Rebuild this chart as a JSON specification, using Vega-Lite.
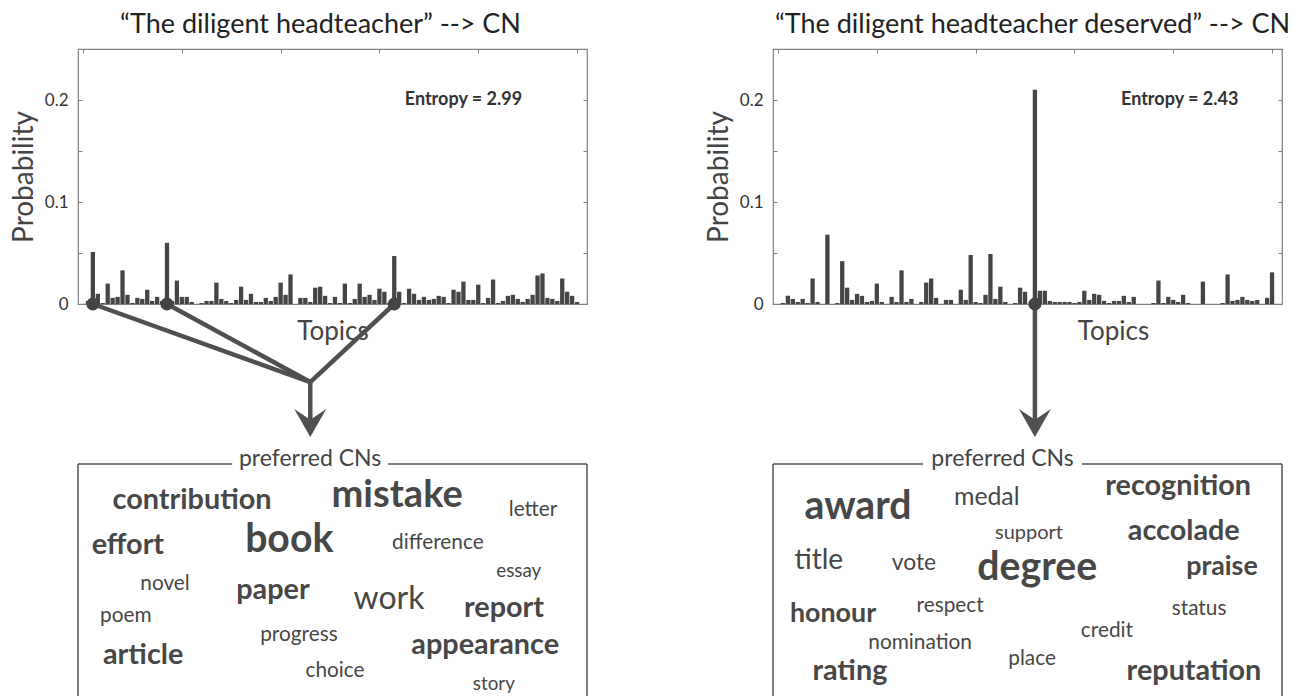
{
  "$schema": "https://vega.github.io/schema/vega-lite/v6.json",
  "padding": {"left": 9, "top": 9, "right": 0, "bottom": 0},
  "background": "white",
  "config": {"font": "Lato", "view": {"stroke": "#808080", "strokeWidth": 1.2}},
  "datasets": {
    "barsL": [
      {"topic":1,"prob":0.003},{"topic":2,"prob":0.051},{"topic":3,"prob":0.010},{"topic":4,"prob":0.001},{"topic":5,"prob":0.020},
      {"topic":6,"prob":0.006},{"topic":7,"prob":0.007},{"topic":8,"prob":0.033},{"topic":9,"prob":0.009},{"topic":10,"prob":0.001},
      {"topic":11,"prob":0.006},{"topic":12,"prob":0.005},{"topic":13,"prob":0.014},{"topic":14,"prob":0.003},{"topic":15,"prob":0.007},
      {"topic":16,"prob":0.003},{"topic":17,"prob":0.060},{"topic":18,"prob":0.003},{"topic":19,"prob":0.023},{"topic":20,"prob":0.007},
      {"topic":21,"prob":0.007},{"topic":22,"prob":0.002},{"topic":23,"prob":0.000},{"topic":24,"prob":0.001},{"topic":25,"prob":0.003},
      {"topic":26,"prob":0.003},{"topic":27,"prob":0.021},{"topic":28,"prob":0.005},{"topic":29,"prob":0.003},{"topic":30,"prob":0.001},
      {"topic":31,"prob":0.004},{"topic":32,"prob":0.017},{"topic":33,"prob":0.004},{"topic":34,"prob":0.010},{"topic":35,"prob":0.002},
      {"topic":36,"prob":0.002},{"topic":37,"prob":0.006},{"topic":38,"prob":0.003},{"topic":39,"prob":0.007},{"topic":40,"prob":0.021},
      {"topic":41,"prob":0.009},{"topic":42,"prob":0.029},{"topic":43,"prob":0.000},{"topic":44,"prob":0.006},{"topic":45,"prob":0.006},
      {"topic":46,"prob":0.002},{"topic":47,"prob":0.016},{"topic":48,"prob":0.017},{"topic":49,"prob":0.008},{"topic":50,"prob":0.001},
      {"topic":51,"prob":0.007},{"topic":52,"prob":0.001},{"topic":53,"prob":0.020},{"topic":54,"prob":0.001},{"topic":55,"prob":0.005},
      {"topic":56,"prob":0.020},{"topic":57,"prob":0.007},{"topic":58,"prob":0.009},{"topic":59,"prob":0.004},{"topic":60,"prob":0.015},
      {"topic":61,"prob":0.012},{"topic":62,"prob":0.001},{"topic":63,"prob":0.047},{"topic":64,"prob":0.012},{"topic":65,"prob":0.001},
      {"topic":66,"prob":0.015},{"topic":67,"prob":0.010},{"topic":68,"prob":0.004},{"topic":69,"prob":0.007},{"topic":70,"prob":0.004},
      {"topic":71,"prob":0.005},{"topic":72,"prob":0.008},{"topic":73,"prob":0.007},{"topic":74,"prob":0.001},{"topic":75,"prob":0.014},
      {"topic":76,"prob":0.012},{"topic":77,"prob":0.022},{"topic":78,"prob":0.004},{"topic":79,"prob":0.004},{"topic":80,"prob":0.019},
      {"topic":81,"prob":0.001},{"topic":82,"prob":0.006},{"topic":83,"prob":0.024},{"topic":84,"prob":0.001},{"topic":85,"prob":0.003},
      {"topic":86,"prob":0.008},{"topic":87,"prob":0.009},{"topic":88,"prob":0.005},{"topic":89,"prob":0.002},{"topic":90,"prob":0.005},
      {"topic":91,"prob":0.009},{"topic":92,"prob":0.028},{"topic":93,"prob":0.030},{"topic":94,"prob":0.006},{"topic":95,"prob":0.005},
      {"topic":96,"prob":0.003},{"topic":97,"prob":0.025},{"topic":98,"prob":0.012},{"topic":99,"prob":0.008},{"topic":100,"prob":0.002}
    ],
    "barsR": [
      {"topic":1,"prob":0.001},{"topic":2,"prob":0.008},{"topic":3,"prob":0.005},{"topic":4,"prob":0.002},{"topic":5,"prob":0.005},
      {"topic":6,"prob":0.001},{"topic":7,"prob":0.025},{"topic":8,"prob":0.002},{"topic":9,"prob":0.000},{"topic":10,"prob":0.068},
      {"topic":11,"prob":0.000},{"topic":12,"prob":0.001},{"topic":13,"prob":0.042},{"topic":14,"prob":0.016},{"topic":15,"prob":0.004},
      {"topic":16,"prob":0.010},{"topic":17,"prob":0.008},{"topic":18,"prob":0.002},{"topic":19,"prob":0.003},{"topic":20,"prob":0.020},
      {"topic":21,"prob":0.002},{"topic":22,"prob":0.000},{"topic":23,"prob":0.007},{"topic":24,"prob":0.002},{"topic":25,"prob":0.033},
      {"topic":26,"prob":0.002},{"topic":27,"prob":0.005},{"topic":28,"prob":0.000},{"topic":29,"prob":0.002},{"topic":30,"prob":0.021},
      {"topic":31,"prob":0.025},{"topic":32,"prob":0.006},{"topic":33,"prob":0.000},{"topic":34,"prob":0.004},{"topic":35,"prob":0.004},
      {"topic":36,"prob":0.000},{"topic":37,"prob":0.014},{"topic":38,"prob":0.004},{"topic":39,"prob":0.048},{"topic":40,"prob":0.002},
      {"topic":41,"prob":0.001},{"topic":42,"prob":0.009},{"topic":43,"prob":0.049},{"topic":44,"prob":0.005},{"topic":45,"prob":0.017},
      {"topic":46,"prob":0.002},{"topic":47,"prob":0.000},{"topic":48,"prob":0.001},{"topic":49,"prob":0.016},{"topic":50,"prob":0.012},
      {"topic":51,"prob":0.000},{"topic":52,"prob":0.210},{"topic":53,"prob":0.013},{"topic":54,"prob":0.013},{"topic":55,"prob":0.003},
      {"topic":56,"prob":0.002},{"topic":57,"prob":0.002},{"topic":58,"prob":0.002},{"topic":59,"prob":0.002},{"topic":60,"prob":0.001},
      {"topic":61,"prob":0.002},{"topic":62,"prob":0.013},{"topic":63,"prob":0.004},{"topic":64,"prob":0.010},{"topic":65,"prob":0.009},
      {"topic":66,"prob":0.003},{"topic":67,"prob":0.001},{"topic":68,"prob":0.003},{"topic":69,"prob":0.003},{"topic":70,"prob":0.008},
      {"topic":71,"prob":0.002},{"topic":72,"prob":0.007},{"topic":73,"prob":0.000},{"topic":74,"prob":0.000},{"topic":75,"prob":0.000},
      {"topic":76,"prob":0.001},{"topic":77,"prob":0.023},{"topic":78,"prob":0.001},{"topic":79,"prob":0.007},{"topic":80,"prob":0.004},
      {"topic":81,"prob":0.002},{"topic":82,"prob":0.009},{"topic":83,"prob":0.001},{"topic":84,"prob":0.000},{"topic":85,"prob":0.000},
      {"topic":86,"prob":0.022},{"topic":87,"prob":0.000},{"topic":88,"prob":0.000},{"topic":89,"prob":0.000},{"topic":90,"prob":0.001},
      {"topic":91,"prob":0.029},{"topic":92,"prob":0.003},{"topic":93,"prob":0.004},{"topic":94,"prob":0.007},{"topic":95,"prob":0.004},
      {"topic":96,"prob":0.003},{"topic":97,"prob":0.004},{"topic":98,"prob":0.000},{"topic":99,"prob":0.006},{"topic":100,"prob":0.031}
    ],
    "selL": [{"topic":2,"prob":0},{"topic":17,"prob":0},{"topic":63,"prob":0}],
    "selR": [{"topic":52,"prob":0}],
    "arrowL": [
      {"topic":2,"prob":0,"topic2":46,"prob2":-0.0765},
      {"topic":17,"prob":0,"topic2":46,"prob2":-0.0765},
      {"topic":63,"prob":0,"topic2":46,"prob2":-0.0765},
      {"topic":46,"prob":-0.0765,"topic2":46,"prob2":-0.113}
    ],
    "arrowR": [
      {"topic":52,"prob":0,"topic2":52,"prob2":-0.113}
    ],
    "headL": [{"topic":46,"prob":-0.1167}],
    "headR": [{"topic":52,"prob":-0.1167}],
    "entL": [{"label":"Entropy = 2.99","topic":88.9,"prob":0.2}],
    "entR": [{"label":"Entropy = 2.43","topic":93.2,"prob":0.2}],
    "frameL": [
      {"x":0,"x2":0,"y":0,"y2":100},{"x":100,"x2":100,"y":0,"y2":100},
      {"x":0,"x2":30.3,"y":0,"y2":0},{"x":60.9,"x2":100,"y":0,"y2":0}
    ],
    "frameR": [
      {"x":0,"x2":0,"y":0,"y2":100},{"x":100,"x2":100,"y":0,"y2":100},
      {"x":0,"x2":29.5,"y":0,"y2":0},{"x":60.7,"x2":100,"y":0,"y2":0}
    ],
    "capL": [{"label":"preferred CNs","x":45.6,"y":1}],
    "capR": [{"label":"preferred CNs","x":45.1,"y":1}],
    "wordsL": [
      {"word":"contribution","x":22.4,"y":18.75,"weight":72,"strong":true},
      {"word":"mistake","x":62.7,"y":17.9,"weight":95,"strong":true},
      {"word":"letter","x":89.4,"y":21.7,"weight":52,"strong":false},
      {"word":"effort","x":9.8,"y":37.5,"weight":72,"strong":true},
      {"word":"book","x":41.5,"y":36.7,"weight":98,"strong":true},
      {"word":"difference","x":70.7,"y":35.4,"weight":52,"strong":false},
      {"word":"essay","x":86.6,"y":47.1,"weight":47,"strong":false},
      {"word":"novel","x":17.1,"y":52.5,"weight":52,"strong":false},
      {"word":"paper","x":38.3,"y":56.25,"weight":72,"strong":true},
      {"word":"work","x":61.1,"y":60.4,"weight":80,"strong":false},
      {"word":"report","x":83.7,"y":63.75,"weight":72,"strong":true},
      {"word":"poem","x":9.4,"y":65.8,"weight":52,"strong":false},
      {"word":"progress","x":43.4,"y":73.75,"weight":52,"strong":false},
      {"word":"article","x":12.8,"y":83.3,"weight":72,"strong":true},
      {"word":"appearance","x":80.0,"y":79.2,"weight":72,"strong":true},
      {"word":"choice","x":50.5,"y":88.75,"weight":52,"strong":false},
      {"word":"story","x":81.7,"y":94.2,"weight":47,"strong":false}
    ],
    "wordsR": [
      {"word":"award","x":16.7,"y":22.9,"weight":98,"strong":true},
      {"word":"medal","x":42.0,"y":17.1,"weight":62,"strong":false},
      {"word":"recognition","x":79.6,"y":12.9,"weight":72,"strong":true},
      {"word":"support","x":50.3,"y":31.25,"weight":50,"strong":false},
      {"word":"accolade","x":80.7,"y":31.7,"weight":72,"strong":true},
      {"word":"title","x":9.0,"y":43.75,"weight":70,"strong":false},
      {"word":"vote","x":27.7,"y":44.2,"weight":57,"strong":false},
      {"word":"degree","x":51.9,"y":48.3,"weight":98,"strong":true},
      {"word":"praise","x":88.2,"y":46.25,"weight":67,"strong":true},
      {"word":"honour","x":11.8,"y":65.8,"weight":67,"strong":true},
      {"word":"respect","x":34.8,"y":61.7,"weight":52,"strong":false},
      {"word":"status","x":83.7,"y":62.9,"weight":52,"strong":false},
      {"word":"credit","x":65.6,"y":72.1,"weight":52,"strong":false},
      {"word":"nomination","x":28.9,"y":77.1,"weight":52,"strong":false},
      {"word":"place","x":50.9,"y":83.75,"weight":52,"strong":false},
      {"word":"rating","x":15.1,"y":90,"weight":72,"strong":true},
      {"word":"reputation","x":82.7,"y":90,"weight":72,"strong":true}
    ]
  },
  "columns": 2,
  "spacing": {"row": 160, "column": 186},
  "bounds": "flush",
  "concat": [
    {
      "width": 509, "height": 255,
      "title": {"text": "“The diligent headteacher” --> CN", "fontSize": 27, "fontWeight": "normal", "color": "#222", "dx": -12, "offset": 10, "font": "Lato"},
      "layer": [
        {
          "data": {"name": "barsL"},
          "mark": {"type": "bar", "width": 4.3, "color": "#454545"},
          "encoding": {
            "x": {"field": "topic", "type": "quantitative", "scale": {"domain": [0, 101], "nice": false, "zero": false},
              "axis": {"orient": "bottom", "title": "Topics", "titleFontSize": 26, "titleFontWeight": "normal", "titleColor": "#444", "titlePadding": 14, "ticks": false, "labels": false, "domain": false, "grid": false}},
            "y": {"field": "prob", "type": "quantitative", "scale": {"domain": [0, 0.25], "nice": false},
              "axis": {"orient": "left", "title": "Probability", "titleFontSize": 28, "titleFontWeight": "normal", "titleColor": "#444", "titlePadding": 6,
                "values": [0, 0.05, 0.1, 0.15, 0.2, 0.25], "format": "~g", "tickSize": -4, "tickColor": "#808080", "labelPadding": 14, "labelFontSize": 17, "labelColor": "#333",
                "labelExpr": "(datum.value == 0 || abs(datum.value - 0.1) < 1e-6 || abs(datum.value - 0.2) < 1e-6) ? datum.label : ''", "domain": false, "grid": false}}
          }
        },
        {
          "data": {"name": "arrowL"},
          "mark": {"type": "rule", "color": "#505050", "strokeWidth": 4.5, "strokeCap": "round"},
          "encoding": {
            "x": {"field": "topic", "type": "quantitative", "axis": null},
            "x2": {"field": "topic2"},
            "y": {"field": "prob", "type": "quantitative", "axis": null},
            "y2": {"field": "prob2"}
          }
        },
        {
          "data": {"name": "selL"},
          "mark": {"type": "point", "filled": true, "size": 170, "color": "#444", "opacity": 1},
          "encoding": {
            "x": {"field": "topic", "type": "quantitative",
              "axis": {"orient": "top", "values": [0, 20, 40, 60, 80, 100], "tickSize": -4, "tickColor": "#808080", "labels": false, "domain": false, "grid": false, "title": null}},
            "y": {"field": "prob", "type": "quantitative",
              "axis": {"orient": "right", "values": [0, 0.05, 0.1, 0.15, 0.2, 0.25], "tickSize": -4, "tickColor": "#808080", "labels": false, "domain": false, "grid": false, "title": null}}
          }
        },
        {
          "data": {"name": "headL"},
          "mark": {"type": "point", "shape": "M0,0.875L-1,-0.875L0,-0.2L1,-0.875Z", "filled": true, "size": 1024, "color": "#505050", "opacity": 1},
          "encoding": {
            "x": {"field": "topic", "type": "quantitative", "axis": null},
            "y": {"field": "prob", "type": "quantitative", "axis": null}
          }
        },
        {
          "data": {"name": "entL"},
          "mark": {"type": "text", "align": "right", "baseline": "middle", "fontSize": 18, "fontWeight": "bold", "color": "#333"},
          "encoding": {
            "x": {"field": "topic", "type": "quantitative", "axis": null},
            "y": {"field": "prob", "type": "quantitative", "axis": null},
            "text": {"field": "label"}
          }
        }
      ],
      "resolve": {"axis": {"x": "independent", "y": "independent"}}
    },
    {
      "width": 509, "height": 255,
      "title": {"text": "“The diligent headteacher deserved” --> CN", "fontSize": 27, "fontWeight": "normal", "color": "#222", "dx": 5, "offset": 10, "font": "Lato"},
      "layer": [
        {
          "data": {"name": "barsR"},
          "mark": {"type": "bar", "width": 4.3, "color": "#454545"},
          "encoding": {
            "x": {"field": "topic", "type": "quantitative", "scale": {"domain": [0, 101], "nice": false, "zero": false},
              "axis": {"orient": "bottom", "title": "Topics", "titleFontSize": 26, "titleFontWeight": "normal", "titleColor": "#444", "titlePadding": 14, "titleX": 340, "ticks": false, "labels": false, "domain": false, "grid": false}},
            "y": {"field": "prob", "type": "quantitative", "scale": {"domain": [0, 0.25], "nice": false},
              "axis": {"orient": "left", "title": "Probability", "titleFontSize": 28, "titleFontWeight": "normal", "titleColor": "#444", "titlePadding": 6,
                "values": [0, 0.05, 0.1, 0.15, 0.2, 0.25], "format": "~g", "tickSize": -4, "tickColor": "#808080", "labelPadding": 14, "labelFontSize": 17, "labelColor": "#333",
                "labelExpr": "(datum.value == 0 || abs(datum.value - 0.1) < 1e-6 || abs(datum.value - 0.2) < 1e-6) ? datum.label : ''", "domain": false, "grid": false}}
          }
        },
        {
          "data": {"name": "arrowR"},
          "mark": {"type": "rule", "color": "#505050", "strokeWidth": 4.5, "strokeCap": "round"},
          "encoding": {
            "x": {"field": "topic", "type": "quantitative", "axis": null},
            "x2": {"field": "topic2"},
            "y": {"field": "prob", "type": "quantitative", "axis": null},
            "y2": {"field": "prob2"}
          }
        },
        {
          "data": {"name": "selR"},
          "mark": {"type": "point", "filled": true, "size": 170, "color": "#444", "opacity": 1},
          "encoding": {
            "x": {"field": "topic", "type": "quantitative",
              "axis": {"orient": "top", "values": [0, 20, 40, 60, 80, 100], "tickSize": -4, "tickColor": "#808080", "labels": false, "domain": false, "grid": false, "title": null}},
            "y": {"field": "prob", "type": "quantitative",
              "axis": {"orient": "right", "values": [0, 0.05, 0.1, 0.15, 0.2, 0.25], "tickSize": -4, "tickColor": "#808080", "labels": false, "domain": false, "grid": false, "title": null}}
          }
        },
        {
          "data": {"name": "headR"},
          "mark": {"type": "point", "shape": "M0,0.875L-1,-0.875L0,-0.2L1,-0.875Z", "filled": true, "size": 1024, "color": "#505050", "opacity": 1},
          "encoding": {
            "x": {"field": "topic", "type": "quantitative", "axis": null},
            "y": {"field": "prob", "type": "quantitative", "axis": null}
          }
        },
        {
          "data": {"name": "entR"},
          "mark": {"type": "text", "align": "right", "baseline": "middle", "fontSize": 18, "fontWeight": "bold", "color": "#333"},
          "encoding": {
            "x": {"field": "topic", "type": "quantitative", "axis": null},
            "y": {"field": "prob", "type": "quantitative", "axis": null},
            "text": {"field": "label"}
          }
        }
      ],
      "resolve": {"axis": {"x": "independent", "y": "independent"}}
    },
    {
      "width": 509, "height": 240,
      "view": {"stroke": null},
      "layer": [
        {
          "data": {"name": "frameL"},
          "mark": {"type": "rule", "color": "#555", "strokeWidth": 1.5},
          "encoding": {
            "x": {"field": "x", "type": "quantitative", "scale": {"domain": [0, 100], "nice": false}, "axis": null},
            "x2": {"field": "x2"},
            "y": {"field": "y", "type": "quantitative", "scale": {"domain": [0, 100], "reverse": true, "nice": false}, "axis": null},
            "y2": {"field": "y2"}
          }
        },
        {
          "data": {"name": "capL"},
          "mark": {"type": "text", "align": "center", "baseline": "alphabetic", "fontSize": 23, "color": "#444"},
          "encoding": {
            "x": {"field": "x", "type": "quantitative", "axis": null},
            "y": {"field": "y", "type": "quantitative", "axis": null},
            "text": {"field": "label"}
          }
        },
        {
          "data": {"name": "wordsL"},
          "transform": [{"filter": "datum.strong"}],
          "mark": {"type": "text", "align": "center", "baseline": "alphabetic", "fontWeight": "bold", "color": "#474747"},
          "encoding": {
            "x": {"field": "x", "type": "quantitative", "axis": null},
            "y": {"field": "y", "type": "quantitative", "axis": null},
            "text": {"field": "word"},
            "size": {"field": "weight", "type": "quantitative", "scale": {"domain": [0, 100], "range": [0, 40]}, "legend": null}
          }
        },
        {
          "data": {"name": "wordsL"},
          "transform": [{"filter": "!datum.strong"}],
          "mark": {"type": "text", "align": "center", "baseline": "alphabetic", "fontWeight": "normal", "color": "#474747"},
          "encoding": {
            "x": {"field": "x", "type": "quantitative", "axis": null},
            "y": {"field": "y", "type": "quantitative", "axis": null},
            "text": {"field": "word"},
            "size": {"field": "weight", "type": "quantitative", "scale": {"domain": [0, 100], "range": [0, 40]}, "legend": null}
          }
        }
      ]
    },
    {
      "width": 509, "height": 240,
      "view": {"stroke": null},
      "layer": [
        {
          "data": {"name": "frameR"},
          "mark": {"type": "rule", "color": "#555", "strokeWidth": 1.5},
          "encoding": {
            "x": {"field": "x", "type": "quantitative", "scale": {"domain": [0, 100], "nice": false}, "axis": null},
            "x2": {"field": "x2"},
            "y": {"field": "y", "type": "quantitative", "scale": {"domain": [0, 100], "reverse": true, "nice": false}, "axis": null},
            "y2": {"field": "y2"}
          }
        },
        {
          "data": {"name": "capR"},
          "mark": {"type": "text", "align": "center", "baseline": "alphabetic", "fontSize": 23, "color": "#444"},
          "encoding": {
            "x": {"field": "x", "type": "quantitative", "axis": null},
            "y": {"field": "y", "type": "quantitative", "axis": null},
            "text": {"field": "label"}
          }
        },
        {
          "data": {"name": "wordsR"},
          "transform": [{"filter": "datum.strong"}],
          "mark": {"type": "text", "align": "center", "baseline": "alphabetic", "fontWeight": "bold", "color": "#474747"},
          "encoding": {
            "x": {"field": "x", "type": "quantitative", "axis": null},
            "y": {"field": "y", "type": "quantitative", "axis": null},
            "text": {"field": "word"},
            "size": {"field": "weight", "type": "quantitative", "scale": {"domain": [0, 100], "range": [0, 40]}, "legend": null}
          }
        },
        {
          "data": {"name": "wordsR"},
          "transform": [{"filter": "!datum.strong"}],
          "mark": {"type": "text", "align": "center", "baseline": "alphabetic", "fontWeight": "normal", "color": "#474747"},
          "encoding": {
            "x": {"field": "x", "type": "quantitative", "axis": null},
            "y": {"field": "y", "type": "quantitative", "axis": null},
            "text": {"field": "word"},
            "size": {"field": "weight", "type": "quantitative", "scale": {"domain": [0, 100], "range": [0, 40]}, "legend": null}
          }
        }
      ]
    }
  ]
}
